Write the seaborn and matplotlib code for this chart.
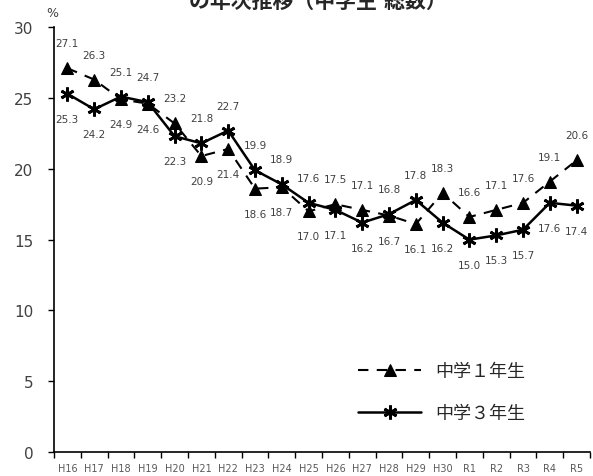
import numpy as np
import pandas as pd
import seaborn as sns
import matplotlib
matplotlib.use('Agg')
import matplotlib.pyplot as plt

# data
years = ['H16', 'H17', 'H18', 'H19', 'H20', 'H21', 'H22', 'H23', 'H24', 'H25',
         'H26', 'H27', 'H28', 'H29', 'H30', 'R1', 'R2', 'R3', 'R4', 'R5']
grade1 = [27.1, 26.3, 24.9, 24.6, 23.2, 20.9, 21.4, 18.6, 18.7, 17.0,
          17.5, 17.1, 16.7, 16.1, 18.3, 16.6, 17.1, 17.6, 19.1, 20.6]
grade3 = [25.3, 24.2, 25.1, 24.7, 22.3, 21.8, 22.7, 19.9, 18.9, 17.6,
          17.1, 16.2, 16.8, 17.8, 16.2, 15.0, 15.3, 15.7, 17.6, 17.4]
series_names = ['中学１年生', '中学３年生']
title_text = 'の年次推移（中学生 総数）'

sns.set_theme(style='white')
plt.rcParams['font.family'] = ['DejaVu Sans', 'Noto Sans CJK JP']

df = pd.DataFrame({'x': np.arange(len(years)), 'g1': grade1, 'g3': grade3})

fig = plt.figure(figsize=(5.93, 4.77), dpi=100)
ax = fig.add_axes([0.091, 0.050, 0.904, 0.891])

sns.lineplot(data=df, x='x', y='g1', ax=ax, color='black', lw=1.5,
             linestyle=(0, (5, 4)), marker='^', markersize=9,
             markeredgecolor='black', label=series_names[0])
sns.lineplot(data=df, x='x', y='g3', ax=ax, color='black', lw=1.8,
             marker=(6, 2, 0), markersize=10, markeredgewidth=2,
             markeredgecolor='black', label=series_names[1])

# data labels: higher value above, lower value below
for i, (a, b) in enumerate(zip(grade1, grade3)):
    hi, lo = (a, b) if a >= b else (b, a)
    ax.annotate(f'{hi:.1f}', (i, hi), xytext=(0, 25), textcoords='offset pixels',
                ha='center', va='center', fontsize=7.5, color='#404040')
    ax.annotate(f'{lo:.1f}', (i, lo), xytext=(0, -25), textcoords='offset pixels',
                ha='center', va='center', fontsize=7.5, color='#404040')

ax.set_xlim(-0.5, len(years) - 0.5)
ax.set_ylim(0, 30)
ax.set_yticks(range(0, 31, 5))
ax.tick_params(axis='y', labelsize=11, length=4, width=1, direction='out',
               left=True, pad=11, colors='black', labelcolor='#404040')

ax.set_xticks(np.arange(-0.5, len(years)), labels=[])
ax.set_xticks(np.arange(len(years)), labels=years, minor=True)
ax.tick_params(axis='x', which='major', length=4, width=1, direction='out',
               bottom=True, colors='black')
ax.tick_params(axis='x', which='minor', length=0, labelsize=7, pad=8,
               labelcolor='#595959')
ax.set_xlabel('')
ax.set_ylabel('')

for s in ['top', 'right']:
    ax.spines[s].set_visible(False)
for s in ['left', 'bottom']:
    ax.spines[s].set_color('black')
    ax.spines[s].set_linewidth(1.2)

ax.legend(loc='upper left', bbox_to_anchor=(0.567, 0.211), frameon=False,
          fontsize=13, handlelength=3.5, handletextpad=0.8, labelspacing=1.3,
          borderpad=0, borderaxespad=0)

fig.text(0.088, 0.971, '%', fontsize=9, color='#404040', ha='center', va='center')
fig.text(0.536, 0.983, title_text, fontsize=15, fontweight='bold',
         ha='center', va='baseline')

plt.savefig('out.png', dpi=100)
